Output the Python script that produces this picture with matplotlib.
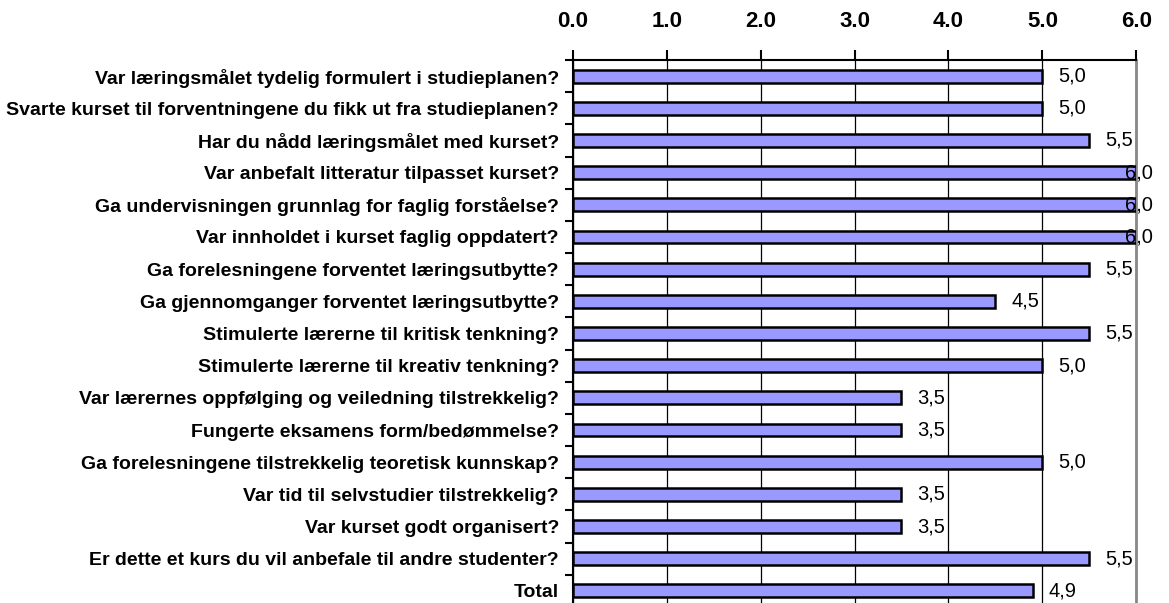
import matplotlib
matplotlib.use('Agg')
import matplotlib.pyplot as plt
import numpy as np

#%% data

questions = [
    'Var læringsmålet tydelig formulert i studieplanen?',
    'Svarte kurset til forventningene du fikk ut fra studieplanen?',
    'Har du nådd læringsmålet med kurset?',
    'Var anbefalt litteratur tilpasset kurset?',
    'Ga undervisningen grunnlag for faglig forståelse?',
    'Var innholdet i kurset faglig oppdatert?',
    'Ga forelesningene forventet læringsutbytte?',
    'Ga gjennomganger forventet læringsutbytte?',
    'Stimulerte lærerne til kritisk tenkning?',
    'Stimulerte lærerne til kreativ tenkning?',
    'Var lærernes oppfølging og veiledning tilstrekkelig?',
    'Fungerte eksamens form/bedømmelse?',
    'Ga forelesningene tilstrekkelig teoretisk kunnskap?',
    'Var tid til selvstudier tilstrekkelig?',
    'Var kurset godt organisert?',
    'Er dette et kurs du vil anbefale til andre studenter?',
    'Total',
]
scores = [5.0, 5.0, 5.5, 6.0, 6.0, 6.0, 5.5, 4.5, 5.5, 5.0, 3.5, 3.5, 5.0, 3.5, 3.5, 5.5, 4.9]
xticks = [0, 1, 2, 3, 4, 5, 6]

#%% plot

plt.rcParams['font.family'] = ['Liberation Sans', 'DejaVu Sans']

fig = plt.figure(figsize=(11.69, 6.03), dpi=100)
ax = fig.add_axes([0.490, -0.0066, 0.482, 0.9071])

ypos = np.arange(len(questions))
ax.barh(ypos, scores, height=0.4, color='#9999FF', edgecolor='black', linewidth=1.8, zorder=3)

ax.set_xlim(0, 6)
ax.set_ylim(len(questions) - 0.5, -0.5)

ax.xaxis.tick_top()
ax.set_xticks(xticks)
ax.set_xticklabels(['%.1f' % t for t in xticks], fontsize=16, fontweight='bold')
ax.tick_params(axis='x', length=7, width=1.5, pad=13)
ax.grid(axis='x', color='black', linewidth=0.9, zorder=0)

ax.set_yticks(ypos)
ax.set_yticklabels(questions, fontsize=14, fontweight='bold')
ax.set_yticks(np.arange(len(questions) + 1) - 0.5, minor=True)
ax.tick_params(axis='y', which='major', length=0, pad=10)
ax.tick_params(axis='y', which='minor', length=6, width=1.5)

ax.spines['bottom'].set_visible(False)
ax.spines['top'].set_linewidth(1.5)
ax.spines['left'].set_linewidth(1.5)
ax.spines['right'].set_color('#888888')
ax.spines['right'].set_linewidth(2)

for y, v in zip(ypos, scores):
    xl = min(v + 0.17, 5.88)
    ax.text(xl, y, ('%.1f' % v).replace('.', ','), va='center', ha='left',
            fontsize=14.5, clip_on=False, zorder=4)

fig.savefig('out.png', dpi=100)
